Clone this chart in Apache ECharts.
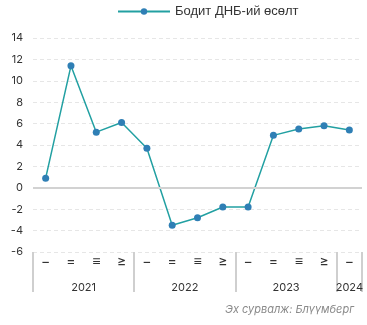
<!DOCTYPE html>
<html>
<head>
<meta charset="utf-8">
<script src="https://cdn.jsdelivr.net/npm/echarts@6/dist/echarts.min.js"></script>
<style>
  html, body { margin: 0; padding: 0; background: #fff; }
  #chart { width: 367px; height: 325px; }
</style>
</head>
<body>
<div id="chart"></div>
<script>
// Quarterly real GDP growth, %
const quarters = ['−', '=', '≡', '≥', '−', '=', '≡', '≥', '−', '=', '≡', '≥', '−'];
const years = ['2021', '2021', '2021', '2021', '2022', '2022', '2022', '2022', '2023', '2023', '2023', '2023', '2024'];
const gdpGrowth = [0.9, 11.4, 5.2, 6.1, 3.7, -3.5, -2.8, -1.8, -1.8, 4.9, 5.5, 5.8, 5.4];
const seriesName = 'Бодит ДНБ-ий өсөлт';
const sourceNote = 'Эх сурвалж: Блүүмберг';

const FONT = 'Inter, "Noto Sans", sans-serif';

// Year label sits on the middle category of its group; full groups get shifted half a slot right
const yearLabelIndex = {};
years.forEach((y, i) => {
  if (!(y in yearLabelIndex)) {
    const count = years.filter(v => v === y).length;
    yearLabelIndex[y] = { index: i + Math.floor(count / 2) - (count % 2 === 0 ? 1 : 0), even: count % 2 === 0 };
  }
});
const groupStart = years.map((y, i) => i === 0 || years[i - 1] !== y);

const chart = echarts.init(document.getElementById('chart'), null, { renderer: 'canvas' });
chart.setOption({
  animation: false,
  backgroundColor: '#fff',
  title: {
    text: sourceNote,
    right: 8,
    bottom: 5,
    textStyle: { fontFamily: FONT, fontSize: 11, fontStyle: 'italic', fontWeight: 'normal', color: '#8a8a8a' }
  },
  legend: {
    top: 5,
    left: 117,
    padding: 0,
    itemWidth: 52,
    itemHeight: 8,
    itemGap: 6,
    textStyle: { fontFamily: '"Liberation Sans", Arial, sans-serif', fontSize: 13, color: '#333' },
    data: [seriesName]
  },
  grid: { left: 33, right: 5, top: 38, bottom: 73 },
  xAxis: [
    {
      type: 'category',
      data: quarters,
      boundaryGap: true,
      axisLine: { show: false },
      axisTick: { show: false },
      axisLabel: {
        fontFamily: FONT,
        fontSize: 14,
        color: '#333',
        margin: 3,
        interval: 0,
        rotate: 0
      }
    },
    {
      type: 'category',
      data: years,
      boundaryGap: true,
      position: 'bottom',
      axisLine: { show: false },
      axisTick: {
        show: true,
        length: 40,
        interval: (idx) => groupStart[idx] === true,
        lineStyle: { color: '#cfcfcf', width: 2 }
      },
      axisLabel: {
        interval: 0,
        rotate: 0,
        margin: 30,
        fontFamily: FONT,
        fontSize: 11,
        color: '#333',
        formatter: (val, idx) => {
          const info = yearLabelIndex[val];
          if (info.index !== idx) return '';
          return info.even ? '{s|' + val + '}' : val;
        },
        rich: {
          s: { fontFamily: FONT, fontSize: 11, color: '#333', padding: [0, 0, 0, 25.3] }
        }
      }
    }
  ],
  yAxis: {
    type: 'value',
    min: -6,
    max: 14,
    interval: 2,
    axisLine: { show: false },
    axisTick: { show: false },
    axisLabel: { fontFamily: FONT, fontSize: 11, color: '#333', margin: 10 },
    splitLine: { show: true, lineStyle: { color: '#e6e6e6', type: [4, 3], width: 1 } }
  },
  series: [
    {
      name: seriesName,
      type: 'line',
      xAxisIndex: 0,
      data: gdpGrowth,
      symbol: 'circle',
      symbolSize: 7,
      lineStyle: { color: '#22a0a2', width: 1.5 },
      itemStyle: { color: '#2f7fb5' },
      markLine: {
        silent: true,
        symbol: 'none',
        label: { show: false },
        lineStyle: { color: '#d2d2d2', type: 'solid', width: 2 },
        data: [{ yAxis: 0 }]
      },
      z: 3
    }
  ]
});
</script>
</body>
</html>
